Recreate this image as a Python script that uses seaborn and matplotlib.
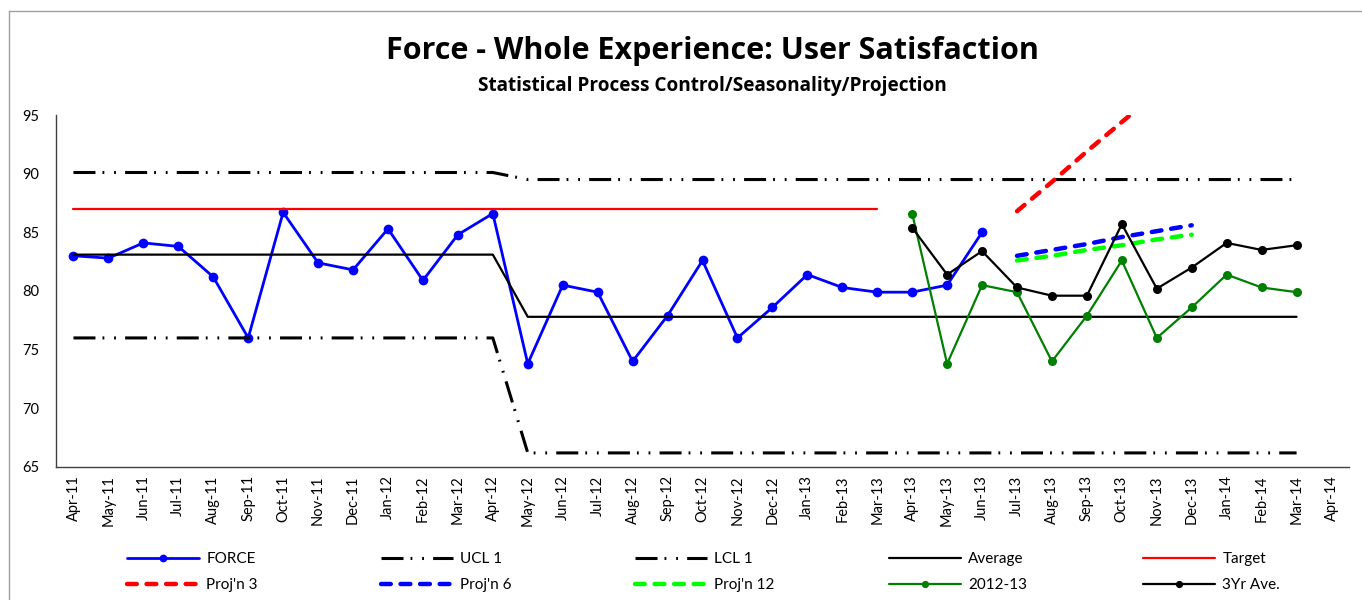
import matplotlib
matplotlib.use("Agg")
import matplotlib.pyplot as plt
from matplotlib.lines import Line2D
import pandas as pd
import seaborn as sns

# Month categories on the x axis
months = ["Apr-11", "May-11", "Jun-11", "Jul-11", "Aug-11", "Sep-11", "Oct-11", "Nov-11",
          "Dec-11", "Jan-12", "Feb-12", "Mar-12", "Apr-12", "May-12", "Jun-12", "Jul-12",
          "Aug-12", "Sep-12", "Oct-12", "Nov-12", "Dec-12", "Jan-13", "Feb-13", "Mar-13",
          "Apr-13", "May-13", "Jun-13", "Jul-13", "Aug-13", "Sep-13", "Oct-13", "Nov-13",
          "Dec-13", "Jan-14", "Feb-14", "Mar-14", "Apr-14"]

# FORCE, Apr-11 .. Jun-13
force = [83.0, 82.8, 84.1, 83.8, 81.2, 76.0, 86.7, 82.4, 81.8, 85.3, 80.9, 84.8,
         86.6, 73.8, 80.5, 79.9, 74.0, 77.9, 82.6, 76.0, 78.6, 81.4, 80.3, 79.9,
         79.9, 80.5, 85.0]

# control limits and average, Apr-11 .. Mar-14
ucl1 = [90.1, 90.1, 90.1, 90.1, 90.1, 90.1, 90.1, 90.1, 90.1, 90.1, 90.1, 90.1,
        90.1, 89.5, 89.5, 89.5, 89.5, 89.5, 89.5, 89.5, 89.5, 89.5, 89.5, 89.5,
        89.5, 89.5, 89.5, 89.5, 89.5, 89.5, 89.5, 89.5, 89.5, 89.5, 89.5, 89.5]
lcl1 = [76.0, 76.0, 76.0, 76.0, 76.0, 76.0, 76.0, 76.0, 76.0, 76.0, 76.0, 76.0,
        76.0, 66.2, 66.2, 66.2, 66.2, 66.2, 66.2, 66.2, 66.2, 66.2, 66.2, 66.2,
        66.2, 66.2, 66.2, 66.2, 66.2, 66.2, 66.2, 66.2, 66.2, 66.2, 66.2, 66.2]
average = [83.1, 83.1, 83.1, 83.1, 83.1, 83.1, 83.1, 83.1, 83.1, 83.1, 83.1, 83.1,
           83.1, 77.8, 77.8, 77.8, 77.8, 77.8, 77.8, 77.8, 77.8, 77.8, 77.8, 77.8,
           77.8, 77.8, 77.8, 77.8, 77.8, 77.8, 77.8, 77.8, 77.8, 77.8, 77.8, 77.8]

# Target, Apr-11 .. Mar-13
target = [87.0, 87.0, 87.0, 87.0, 87.0, 87.0, 87.0, 87.0, 87.0, 87.0, 87.0, 87.0,
          87.0, 87.0, 87.0, 87.0, 87.0, 87.0, 87.0, 87.0, 87.0, 87.0, 87.0, 87.0]

# projections, Jul-13 .. Dec-13
proj3 = [86.8, 89.3, 91.9, 94.4, 96.9, 99.5]
proj6 = [83.0, 83.5, 84.0, 84.6, 85.1, 85.6]
proj12 = [82.6, 83.0, 83.5, 83.9, 84.4, 84.8]

# Apr-13 .. Mar-14
year_2012_13 = [86.6, 73.8, 80.5, 79.9, 74.0, 77.9, 82.6, 76.0, 78.6, 81.4, 80.3, 79.9]
three_yr_ave = [85.4, 81.4, 83.4, 80.3, 79.6, 79.6, 85.7, 80.2, 82.0, 84.1, 83.5, 83.9]


def series_frame(values, first_month):
    start = months.index(first_month)
    return pd.DataFrame({"pos": range(start, start + len(values)), "value": values})


sns.set_style("white")
plt.rcParams["font.family"] = ["Lato", "DejaVu Sans"]
plt.rcParams["text.color"] = "black"

fig = plt.figure(figsize=(13.62, 6.0), dpi=100)
ax = fig.add_axes([56 / 1362, 1 - 467 / 600, (1349 - 56) / 1362, (467 - 115) / 600])

ctrl_dash = (0, (7.2, 2.3, 0.6, 3.2, 0.6, 3.0))
proj_dash = (0, (2.2, 2.2))

series = [
    ("FORCE", force, "Apr-11", dict(color="#0000FF", lw=2.0, marker="o", markersize=7)),
    ("UCL 1", ucl1, "Apr-11", dict(color="black", lw=2.2, linestyle=ctrl_dash)),
    ("LCL 1", lcl1, "Apr-11", dict(color="black", lw=2.2, linestyle=ctrl_dash)),
    ("Average", average, "Apr-11", dict(color="black", lw=1.6)),
    ("Target", target, "Apr-11", dict(color="#FF0000", lw=1.6)),
    ("Proj'n 3", proj3, "Jul-13", dict(color="#FF0000", lw=3.2, linestyle=proj_dash,
                                        dash_capstyle="round")),
    ("Proj'n 6", proj6, "Jul-13", dict(color="#0000FF", lw=3.2, linestyle=proj_dash,
                                        dash_capstyle="round")),
    ("Proj'n 12", proj12, "Jul-13", dict(color="#00FF00", lw=3.2, linestyle=proj_dash,
                                          dash_capstyle="round")),
    ("2012-13", year_2012_13, "Apr-13", dict(color="#008000", lw=1.6, marker="o", markersize=6.5)),
    ("3Yr Ave.", three_yr_ave, "Apr-13", dict(color="black", lw=1.6, marker="o", markersize=6.5)),
]

handles = {}
for name, values, first, style in series:
    df = series_frame(values, first)
    n_before = len(ax.lines)
    extra = {}
    if "marker" in style:
        extra = dict(markeredgewidth=0, markeredgecolor=style["color"])
    sns.lineplot(data=df, x="pos", y="value", ax=ax, errorbar=None, label=name,
                 **style, **extra)
    handles[name] = ax.lines[n_before]

if ax.get_legend() is not None:
    ax.get_legend().remove()

ax.set_xlim(-0.5, len(months) - 0.5)
ax.set_ylim(65, 95)
ax.set_yticks([65, 70, 75, 80, 85, 90, 95])
ax.set_xticks(range(len(months)))
ax.set_xticklabels(months, rotation=90)
ax.set_xticks([i - 0.5 for i in range(len(months) + 1)], minor=True)
ax.tick_params(axis="x", which="major", length=0, pad=6, labelsize=10.5, colors="black")
ax.tick_params(axis="x", which="minor", length=5, width=1, color="#404040", direction="out")
ax.tick_params(axis="y", length=5, width=1, color="#404040", direction="out", pad=7,
               labelsize=10.5, labelcolor="black")
ax.set_xlabel("")
ax.set_ylabel("")
sns.despine(ax=ax)
for side in ["left", "bottom"]:
    ax.spines[side].set_color("#404040")
    ax.spines[side].set_linewidth(1)
ax.grid(False)

fig.text(712 / 1362, 1 - 51 / 600, "Force - Whole Experience: User Satisfaction",
         ha="center", va="center", fontsize=22, fontweight="bold",
         family=["Open Sans", "DejaVu Sans"])
fig.text(712 / 1362, 1 - 86 / 600, "Statistical Process Control/Seasonality/Projection",
         ha="center", va="center", fontsize=13.7, fontweight="bold",
         family=["Open Sans", "DejaVu Sans"])

# legend laid out as in the original: five columns of two rows
columns = [("FORCE", "Proj'n 3"), ("UCL 1", "Proj'n 6"), ("LCL 1", "Proj'n 12"),
           ("Average", "2012-13"), ("Target", "3Yr Ave.")]
col_x = [127, 381, 635, 889, 1143]
for (top, bottom), x in zip(columns, col_x):
    leg = fig.legend([handles[top], handles[bottom]], [top, bottom],
                     loc="upper left", bbox_to_anchor=(x / 1362, 1 - 552 / 600),
                     frameon=False, borderpad=0, borderaxespad=0, handlelength=4.7,
                     handletextpad=0.5, labelspacing=0.8, fontsize=11, numpoints=1,
                     markerscale=0.8)

# chart frame border
fig.add_artist(Line2D([8.5 / 1362, 8.5 / 1362], [0, 1 - 10.5 / 600], color="#a0a0a0", lw=1))
fig.add_artist(Line2D([8.5 / 1362, 1], [1 - 10.5 / 600, 1 - 10.5 / 600], color="#a0a0a0", lw=1))

fig.savefig("out.png", dpi=100)
